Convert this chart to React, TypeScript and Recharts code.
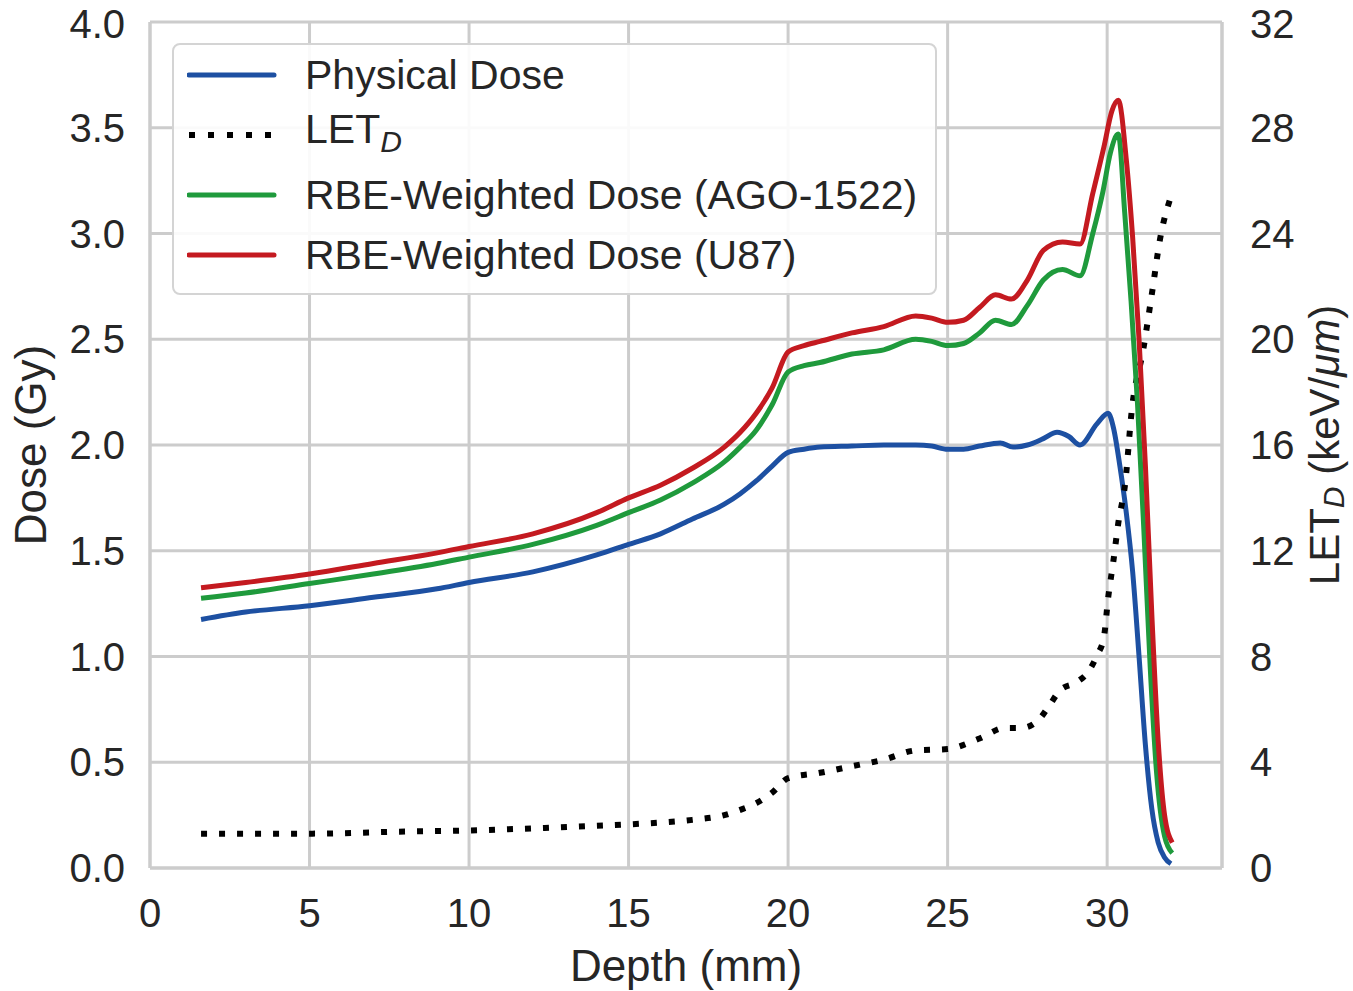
import { LineChart, Line, XAxis, YAxis, CartesianGrid } from "recharts";

// depth in mm, dose in Gy, LET in keV/um
const physicalDepth = [1.6, 3, 5, 7, 9, 10, 12, 14, 15, 16, 17, 18, 18.5, 19, 19.5, 20, 20.5, 21, 22, 23, 24, 24.5, 25, 25.5, 26, 26.65, 27.05, 27.5, 28, 28.43, 28.8, 29.15, 29.68, 30.03, 30.2, 30.4, 30.6, 30.8, 31.0, 31.2, 31.4, 31.6, 31.8, 32.0];
const physicalDose = [1.175, 1.21, 1.24, 1.28, 1.32, 1.35, 1.4, 1.48, 1.53, 1.58, 1.65, 1.72, 1.77, 1.83, 1.9, 1.965, 1.98, 1.99, 1.995, 2.0, 2.0, 1.995, 1.98, 1.98, 1.995, 2.01, 1.99, 2.0, 2.03, 2.06, 2.04, 2.0, 2.1, 2.15, 2.08, 1.9, 1.68, 1.4, 1.0, 0.58, 0.28, 0.12, 0.05, 0.02];

const agoDepth = [1.6, 3, 5, 7, 9, 10, 12, 14, 15, 16, 17, 18, 18.5, 19, 19.5, 20, 20.5, 21, 22, 23, 24, 24.5, 25, 25.5, 26, 26.5, 27, 27.5, 28, 28.6, 29.15, 29.55, 29.87, 30.1, 30.35, 30.55, 30.75, 30.95, 31.15, 31.35, 31.55, 31.8, 32.04];
const agoDose = [1.275, 1.3, 1.345, 1.39, 1.44, 1.47, 1.53, 1.62, 1.68, 1.74, 1.82, 1.92, 1.99, 2.07, 2.19, 2.345, 2.375, 2.39, 2.43, 2.45, 2.5, 2.49, 2.47, 2.48, 2.53, 2.59, 2.57, 2.66, 2.78, 2.83, 2.8, 3.0, 3.2, 3.38, 3.47, 3.1, 2.68, 2.2, 1.6, 0.95, 0.45, 0.15, 0.07];

const u87Depth = [1.6, 3, 5, 7, 9, 10, 12, 14, 15, 16, 17, 18, 18.5, 19, 19.5, 20, 20.5, 21, 22, 23, 24, 24.5, 25, 25.5, 26, 26.5, 27, 27.5, 28, 28.6, 29.15, 29.55, 29.9, 30.15, 30.35, 30.6, 30.8, 31.0, 31.2, 31.4, 31.6, 31.8, 32.04];
const u87Dose = [1.325, 1.35, 1.39, 1.44, 1.49, 1.52, 1.58, 1.68, 1.75, 1.81, 1.89, 1.99, 2.06, 2.15, 2.27, 2.44, 2.47, 2.49, 2.53, 2.56, 2.61, 2.6, 2.58, 2.59, 2.65, 2.71, 2.69, 2.78, 2.92, 2.96, 2.95, 3.19, 3.41, 3.58, 3.63, 3.35, 2.98, 2.5, 1.9, 1.2, 0.6, 0.25, 0.12];

const letDepth = [1.6, 5, 8, 10, 12, 14, 15, 16, 17, 18, 18.5, 19, 19.5, 20, 21, 22, 23, 24, 25, 26, 26.8, 27.33, 27.85, 28.2, 28.53, 29.06, 29.4, 29.69, 29.9, 30.03, 30.2, 30.35, 30.56, 30.78, 31.13, 31.4, 31.66, 32.0];
const letValue = [1.3, 1.3, 1.38, 1.42, 1.5, 1.6, 1.65, 1.72, 1.82, 2.0, 2.2, 2.45, 2.85, 3.4, 3.6, 3.85, 4.1, 4.45, 4.5, 4.9, 5.3, 5.3, 5.6, 6.17, 6.73, 7.04, 7.41, 8.06, 8.74, 10.2, 11.65, 13.05, 14.5, 17.4, 19.6, 21.7, 23.8, 25.4];

const depthTicks = [0, 5, 10, 15, 20, 25, 30];
const doseTicks = [0, 0.5, 1, 1.5, 2, 2.5, 3, 3.5, 4];
const letTicks = [0, 4, 8, 12, 16, 20, 24, 28, 32];

const FONT = '"Liberation Sans", Arial, sans-serif';
const TEXT = "#262626";
const GRID = "#cccccc";

const toPoints = (depth: number[], value: number[]) =>
  depth.map((d, i) => ({ depth: d, value: value[i] }));

const series = [
  { name: "Physical Dose", color: "#1d50a2", dotted: false, axis: "dose", points: toPoints(physicalDepth, physicalDose) },
  { name: "LET", color: "#000000", dotted: true, axis: "let", points: toPoints(letDepth, letValue) },
  { name: "RBE-Weighted Dose (AGO-1522)", color: "#1f9a3c", dotted: false, axis: "dose", points: toPoints(agoDepth, agoDose) },
  { name: "RBE-Weighted Dose (U87)", color: "#c41a20", dotted: false, axis: "dose", points: toPoints(u87Depth, u87Dose) },
];

const tickStyle = { fontSize: 40, fill: TEXT, fontFamily: FONT };

function LeftTitle(props: any) {
  const vb = props.viewBox;
  const cx = vb.x + 30;
  const cy = vb.y + vb.height / 2;
  return (
    <text x={cx} y={cy} transform={`rotate(-90 ${cx} ${cy})`} textAnchor="middle" dominantBaseline="central"
      fontSize={44} fill={TEXT} fontFamily={FONT}>
      Dose (Gy)
    </text>
  );
}

function RightTitle(props: any) {
  const vb = props.viewBox;
  const cx = vb.x + vb.width - 29;
  const cy = vb.y + vb.height / 2;
  return (
    <text x={cx} y={cy} transform={`rotate(-90 ${cx} ${cy})`} textAnchor="middle" dominantBaseline="central"
      fontSize={42} fill={TEXT} fontFamily={FONT}>
      LET
      <tspan dy={9} fontSize={30} fontStyle="italic">D</tspan>
      <tspan dy={-9}> (keV/</tspan>
      <tspan fontStyle="italic">μm</tspan>
      <tspan>)</tspan>
    </text>
  );
}

function BottomTitle(props: any) {
  const vb = props.viewBox;
  return (
    <text x={vb.x + vb.width / 2} y={vb.y + 97} textAnchor="middle" dominantBaseline="central"
      fontSize={44} fill={TEXT} fontFamily={FONT}>
      Depth (mm)
    </text>
  );
}

function ChartLegend() {
  return (
    <div
      style={{
        position: "absolute", left: 172, top: 43, width: 761, height: 248,
        border: "2px solid #d4d4d4", borderRadius: 8, background: "rgba(255,255,255,0.9)",
        fontFamily: FONT, fontSize: 41, color: TEXT,
      }}
    >
      {series.map((s, i) => (
        <div key={s.name} style={{ position: "absolute", left: 13, top: 30 + i * 60 - 25, height: 50, display: "flex", alignItems: "center" }}>
          <svg width={90} height={20} style={{ display: "block" }}>
            <line x1={2} y1={10} x2={87} y2={10} stroke={s.color} strokeWidth={s.dotted ? 6 : 5}
              strokeDasharray={s.dotted ? "6 13" : undefined} strokeLinecap={s.dotted ? "butt" : "round"} />
          </svg>
          <span style={{ marginLeft: 28, whiteSpace: "nowrap", lineHeight: "50px" }}>
            {s.dotted ? (
              <>
                LET<sub style={{ fontStyle: "italic", fontSize: 30, verticalAlign: "-9px" }}>D</sub>
              </>
            ) : (
              s.name
            )}
          </span>
        </div>
      ))}
    </div>
  );
}

export default function App() {
  return (
    <div style={{ position: "absolute", left: 0, top: 0, width: 1353, height: 991, background: "#fff" }}>
      <LineChart width={1353} height={991} margin={{ top: 22, right: 0, bottom: 0, left: 0 }}>
        <CartesianGrid yAxisId="dose" stroke={GRID} strokeWidth={3} />
        <XAxis
          type="number"
          dataKey="depth"
          domain={[0, 33.6]}
          ticks={depthTicks}
          allowDataOverflow
          height={123}
          tickLine={false}
          tickSize={0}
          tickMargin={31}
          axisLine={{ stroke: GRID, strokeWidth: 3 }}
          tick={tickStyle}
          label={(p: any) => <BottomTitle {...p} />}
        />
        <YAxis
          yAxisId="dose"
          orientation="left"
          type="number"
          domain={[0, 4]}
          ticks={doseTicks}
          width={150}
          tickLine={false}
          tickSize={0}
          tickMargin={25}
          axisLine={{ stroke: GRID, strokeWidth: 3 }}
          tick={tickStyle}
          tickFormatter={(v: number) => v.toFixed(1)}
          label={(p: any) => <LeftTitle {...p} />}
        />
        <YAxis
          yAxisId="let"
          orientation="right"
          type="number"
          domain={[0, 32]}
          ticks={letTicks}
          width={131}
          tickLine={false}
          tickSize={0}
          tickMargin={28}
          axisLine={{ stroke: GRID, strokeWidth: 3 }}
          tick={tickStyle}
          label={(p: any) => <RightTitle {...p} />}
        />
        {series.map((s) => (
          <Line
            key={s.name}
            yAxisId={s.axis}
            data={s.points}
            dataKey="value"
            type="monotone"
            stroke={s.color}
            strokeWidth={s.dotted ? 6 : 5}
            strokeDasharray={s.dotted ? "6 12" : undefined}
            strokeLinejoin="round"
            dot={false}
            activeDot={false}
            isAnimationActive={false}
          />
        ))}
      </LineChart>
      <ChartLegend />
    </div>
  );
}
